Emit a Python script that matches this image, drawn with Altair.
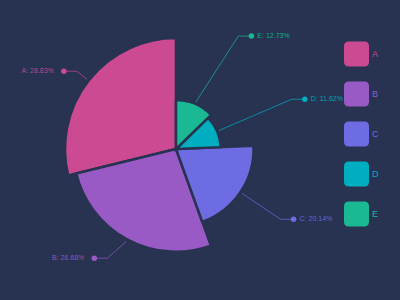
import math
import pandas as pd
import altair as alt

# ---- data ----
cats = ["A", "B", "C", "D", "E"]
values = [28.83, 26.68, 20.14, 11.62, 12.73]
labels = ["A: 28.83%", "B: 26.68%", "C: 20.14%", "D: 11.62%", "E: 12.73%"]
colors = ["#cc4a92", "#9a5ac6", "#6d6ce2", "#00aec0", "#1ab893"]
draw_order = ["E", "D", "C", "B", "A"]  # clockwise from 12 o'clock

# ---- styling / layout constants ----
BG = "#273350"
CX, CY = 176, 149
R_MAX = 111
ELBOW_R = 126
TAIL = 13
FONT = "Liberation Sans"
# small angular nudges (degrees) of label elbows to avoid crowding
NUDGE = {"E": 6, "B": 4}

val = dict(zip(cats, values))
lab = dict(zip(cats, labels))
vmax = max(values)
total = sum(values)

arc_df = pd.DataFrame({
    "cat": cats,
    "value": values,
    "ord": [draw_order.index(c) for c in cats],
})

# leader lines / dots / texts derived from the values
line_rows, dot_rows = [], []
cum = 0.0
for c in draw_order:
    v = val[c]
    a0 = cum / total * 2 * math.pi
    cum += v
    a1 = cum / total * 2 * math.pi
    mid = (a0 + a1) / 2
    s, co = math.sin(mid), math.cos(mid)
    r = v / vmax * R_MAX + 2
    side = 1 if s >= 0 else -1
    em = mid + math.radians(NUDGE.get(c, 0))
    er = ELBOW_R + (3 if c in NUDGE else 0)
    p0 = (CX + r * s, CY - r * co)
    p1 = (CX + er * math.sin(em), CY - er * math.cos(em))
    p2 = (p1[0] + side * TAIL, p1[1])
    for i, p in enumerate([p0, p1, p2]):
        line_rows.append({"cat": c, "pt": i, "px": p[0], "py": p[1]})
    dot_rows.append({"cat": c, "px": p2[0], "py": p2[1],
                     "tx": p2[0] + (6 if side > 0 else -10), "side": side, "label": lab[c]})
line_df = pd.DataFrame(line_rows)
dot_df = pd.DataFrame(dot_rows)

leg_df = pd.DataFrame({
    "cat": cats,
    "ly": [54 + 40 * i for i in range(len(cats))],
})

color = alt.Color("cat:N", scale=alt.Scale(domain=cats, range=colors), legend=None)

arcs = alt.Chart(arc_df).mark_arc(stroke=BG, strokeWidth=2.5).encode(
    theta=alt.Theta("value:Q", stack=True),
    radius=alt.Radius("value:Q", scale=alt.Scale(type="linear", zero=True, range=[0, R_MAX])),
    order=alt.Order("ord:Q"),
    color=color,
    x=alt.value(CX),
    y=alt.value(CY),
)

lines = alt.Chart(line_df).mark_line(strokeWidth=1, opacity=0.7).encode(
    x=alt.X("px:Q", scale=None, axis=None),
    y=alt.Y("py:Q", scale=None, axis=None),
    detail="cat:N",
    order="pt:Q",
    color=color,
)

dots = alt.Chart(dot_df).mark_point(filled=True, size=30, opacity=1, shape="circle").encode(
    x=alt.X("px:Q", scale=None, axis=None),
    y=alt.Y("py:Q", scale=None, axis=None),
    color=color,
)

text_r = alt.Chart(dot_df).transform_filter("datum.side > 0").mark_text(
    align="left", baseline="middle", fontSize=7, font=FONT, opacity=0.9
).encode(
    x=alt.X("tx:Q", scale=None, axis=None),
    y=alt.Y("py:Q", scale=None, axis=None),
    text="label:N",
    color=color,
)

text_l = alt.Chart(dot_df).transform_filter("datum.side < 0").mark_text(
    align="right", baseline="middle", fontSize=7, font=FONT, opacity=0.9
).encode(
    x=alt.X("tx:Q", scale=None, axis=None),
    y=alt.Y("py:Q", scale=None, axis=None),
    text="label:N",
    color=color,
)

rounded = "M -0.62 -1 L 0.62 -1 Q 1 -1 1 -0.62 L 1 0.62 Q 1 1 0.62 1 L -0.62 1 Q -1 1 -1 0.62 L -1 -0.62 Q -1 -1 -0.62 -1 Z"
leg_sym = alt.Chart(leg_df).mark_point(filled=True, size=625, shape=rounded, opacity=1).encode(
    x=alt.value(356.5),
    y=alt.Y("ly:Q", scale=None, axis=None),
    color=color,
)
leg_txt = alt.Chart(leg_df).mark_text(
    align="left", baseline="middle", fontSize=9, font=FONT
).encode(
    x=alt.value(372),
    y=alt.Y("ly:Q", scale=None, axis=None),
    text="cat:N",
    color=color,
)

chart = alt.layer(arcs, lines, dots, text_r, text_l, leg_sym, leg_txt).properties(
    width=400, height=300, padding=0, background=BG,
    autosize=alt.AutoSizeParams(type="none"),
).configure_view(strokeWidth=0)

chart.save("out.html", embed_options={"renderer": "svg", "actions": False})
